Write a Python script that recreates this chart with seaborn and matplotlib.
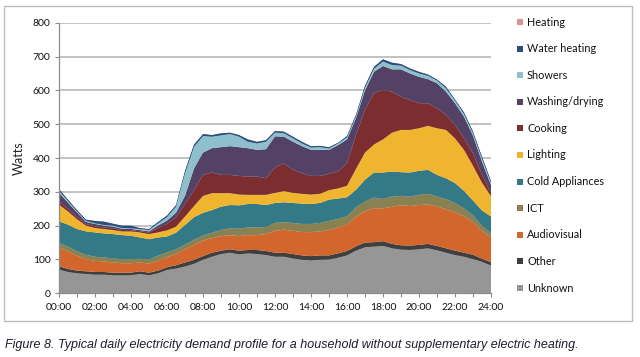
import numpy as np
import pandas as pd
import matplotlib
matplotlib.use("Agg")
import matplotlib.pyplot as plt
from matplotlib.patches import Rectangle
import seaborn as sns
import seaborn.objects as so

# ---------------- data (half-hourly, Watts per end use) ----------------
hours = [0, 0.5, 1, 1.5, 2, 2.5, 3, 3.5, 4, 4.5, 5, 5.5,
         6, 6.5, 7, 7.5, 8, 8.5, 9, 9.5, 10, 10.5, 11, 11.5,
         12, 12.5, 13, 13.5, 14, 14.5, 15, 15.5, 16, 16.5, 17, 17.5,
         18, 18.5, 19, 19.5, 20, 20.5, 21, 21.5, 22, 22.5, 23, 23.5, 24]

unknown = [70, 63, 59, 57, 55, 55, 53, 53, 53, 57, 53, 59,
           69, 73, 79, 87, 99, 108, 116, 120, 115, 118, 116, 113,
           108, 108, 103, 99, 97, 99, 100, 105, 112, 126, 136, 138,
           140, 133, 129, 128, 130, 133, 127, 120, 113, 108, 101, 93, 82]
other = [10, 9, 8, 8, 8, 8, 8, 8, 8, 8, 8, 8,
         8, 10, 12, 12, 11, 12, 10, 10, 11, 10, 12, 12,
         12, 12, 13, 13, 13, 13, 12, 13, 13, 13, 14, 13,
         14, 13, 13, 13, 13, 13, 13, 13, 13, 12, 13, 9, 10]
audiovisual = [55, 52, 44, 36, 33, 31, 30, 28, 28, 26, 27, 29,
               30, 33, 39, 44, 46, 43, 43, 42, 43, 44, 44, 50,
               65, 68, 69, 69, 71, 71, 75, 77, 78, 88, 93, 101,
               97, 110, 118, 117, 118, 116, 117, 115, 114, 108, 96, 83, 73]
ict = [14, 14, 13, 13, 12, 12, 12, 12, 12, 11, 12, 15,
       14, 14, 14, 15, 15, 16, 18, 20, 22, 23, 23, 21,
       23, 22, 23, 24, 24, 25, 27, 25, 25, 27, 28, 31,
       28, 30, 28, 28, 30, 32, 29, 30, 27, 23, 20, 15, 12]
cold_appliances = [64, 65, 66, 69, 72, 71, 72, 71, 69, 63, 60, 54,
                   47, 49, 58, 67, 67, 67, 69, 69, 69, 69, 69, 65,
                   59, 59, 59, 60, 59, 59, 63, 60, 56, 52, 65, 74,
                   78, 74, 70, 71, 71, 71, 64, 62, 59, 52, 44, 45, 50]
lighting = [49, 39, 29, 17, 13, 13, 12, 11, 13, 15, 15, 15,
            18, 18, 25, 33, 50, 50, 40, 35, 32, 27, 27, 30,
            30, 33, 30, 29, 28, 27, 28, 30, 34, 62, 80, 83,
            98, 115, 125, 126, 126, 130, 138, 143, 132, 121, 103, 82, 60]
cooking = [10, 7, 7, 5, 5, 5, 5, 4, 4, 3, 5, 13,
           19, 28, 37, 47, 62, 61, 54, 54, 55, 54, 54, 49,
           75, 82, 68, 61, 55, 53, 48, 50, 67, 100, 127, 152,
           146, 121, 98, 88, 74, 67, 59, 44, 40, 34, 37, 23, 10]
washing_drying = [25, 19, 13, 6, 7, 5, 5, 4, 3, 4, 3, 7,
                  10, 13, 24, 64, 66, 72, 82, 85, 85, 84, 79, 86,
                  92, 79, 83, 80, 77, 77, 71, 78, 70, 50, 57, 63,
                  71, 66, 81, 79, 78, 71, 74, 69, 64, 64, 52, 39, 23]
showers = [6, 5, 3, 3, 2, 2, 3, 2, 2, 3, 4, 7,
           10, 18, 67, 64, 49, 34, 35, 36, 31, 19, 19, 22,
           11, 10, 10, 8, 7, 8, 4, 5, 6, 5, 8, 9,
           13, 13, 11, 10, 10, 10, 8, 10, 8, 8, 7, 9, 7]
water_heating = [5, 4, 4, 4, 7, 10, 6, 7, 8, 3, 3, 4,
                 5, 5, 7, 7, 6, 5, 6, 4, 5, 7, 5, 5,
                 5, 5, 5, 5, 4, 4, 4, 2, 4, 5, 6, 6,
                 7, 7, 5, 5, 5, 4, 3, 5, 3, 5, 5, 6, 5]
heating = [0] * len(hours)

# bottom-to-top stacking order
categories = ["Unknown", "Other", "Audiovisual", "ICT", "Cold Appliances",
              "Lighting", "Cooking", "Washing/drying", "Showers",
              "Water heating", "Heating"]
series = [unknown, other, audiovisual, ict, cold_appliances, lighting,
          cooking, washing_drying, showers, water_heating, heating]
colors = ["#969696", "#3f3f3f", "#d3662c", "#8a8152", "#337a86",
          "#f0b52e", "#7b2d30", "#534265", "#8ec0cc", "#2b4e7c", "#d9938f"]
x_labels = ["00:00", "02:00", "04:00", "06:00", "08:00", "10:00", "12:00",
            "14:00", "16:00", "18:00", "20:00", "22:00", "24:00"]
y_ticks = [0, 100, 200, 300, 400, 500, 600, 700, 800]

df = pd.concat(
    [pd.DataFrame({"hour": hours, "watts": vals, "use": name})
     for name, vals in zip(categories, series)],
    ignore_index=True)
palette = dict(zip(categories, colors))

# ---------------- figure ----------------
sns.set_theme(style="white")
plt.rcParams["font.family"] = ["Lato", "DejaVu Sans"]

fig = plt.figure(figsize=(6.4, 3.57), dpi=100)
W, H = 640, 357
ax = fig.add_axes([59 / W, 1 - 293.3 / H, (491 - 59) / W, (293.3 - 22.7) / H])

(
    so.Plot(df, x="hour", y="watts", color="use")
    .add(so.Area(alpha=1, edgewidth=0.3), so.Stack(), legend=False)
    .scale(color=palette)
    .on(ax)
    .plot()
)

ax.set_facecolor("white")
ax.set_xlim(0, 24)
ax.set_ylim(0, 800)
ax.set_xticks(np.arange(0, 25, 2))
ax.set_xticks(np.arange(0, 25, 1), minor=True)
ax.set_xticklabels(x_labels)
ax.set_yticks(y_ticks)
ax.set_yticklabels([str(v) for v in y_ticks])
ax.set_xlabel("")
ax.set_ylabel("Watts", fontsize=9, color="#222222", labelpad=6)
ax.grid(False)
ax.yaxis.grid(True, color="#bdbdbd", linewidth=1.3)
ax.set_axisbelow(True)
for s in ["top", "right"]:
    ax.spines[s].set_visible(False)
for s in ["left", "bottom"]:
    ax.spines[s].set_visible(True)
    ax.spines[s].set_color("#8c8c8c")
    ax.spines[s].set_linewidth(0.9)
ax.tick_params(axis="both", which="both", direction="out", color="#8c8c8c",
               width=0.8, labelsize=7.5, labelcolor="#111111")
ax.tick_params(axis="x", which="both", length=3, bottom=True, pad=4)
ax.tick_params(axis="y", length=3, left=True, pad=3)

# legend (manual, top = Heating)
leg_ys = np.linspace(22, 288, len(categories))
for yy, name, col in zip(leg_ys, categories[::-1], colors[::-1]):
    fig.patches.append(Rectangle((517 / W, 1 - (yy + 3) / H), 6 / W, 6 / H,
                                 transform=fig.transFigure, facecolor=col,
                                 edgecolor="none"))
    fig.text(527 / W, 1 - yy / H, name, fontsize=7.8, va="center",
             ha="left", color="#111111")

# outer frame
fig.patches.append(Rectangle((4 / W, 1 - 321 / H), 628 / W, 315 / H,
                             transform=fig.transFigure, fill=False,
                             edgecolor="#bfbfbf", linewidth=1.0))

fig.text(5 / W, 1 - 345 / H,
         "Figure 8. Typical daily electricity demand profile for a household "
         "without supplementary electric heating.",
         fontsize=9.0, style="italic", va="center", ha="left",
         color="#1c1c2c",
         family=["Liberation Sans Narrow", "DejaVu Sans Condensed",
                 "Liberation Sans"])

fig.savefig("out.png", dpi=100)
